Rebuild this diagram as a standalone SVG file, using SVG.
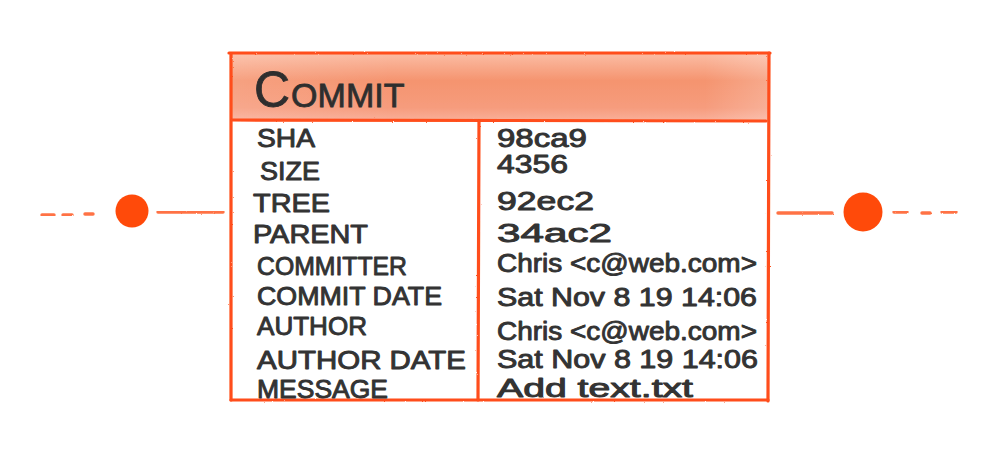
<svg xmlns="http://www.w3.org/2000/svg" width="1000" height="463" viewBox="0 0 1000 463">
  <defs>
    <style>
      .edge { stroke: #ff5a24; stroke-width: 3.4; stroke-linecap: round; fill: none; opacity: 0.85; }
      .frame { stroke: #ff4d1a; stroke-width: 3.2; fill: none; stroke-linecap: round; }
      .dot { fill: #ff4a0a; }
      .lbl, .val { font-family: "Liberation Sans", "DejaVu Sans", sans-serif; font-size: 25px; fill: #333333; stroke: #333333; stroke-width: 0.9; stroke-linejoin: round; }
      .title { font-family: "Liberation Sans", "DejaVu Sans", sans-serif; fill: #2e2e2e; stroke: #2e2e2e; stroke-width: 0.8; }
    </style>
    <linearGradient id="headFill" x1="0" y1="0" x2="0" y2="1">
      <stop offset="0" stop-color="#fbbca3"/>
      <stop offset="0.4" stop-color="#f5946f"/>
      <stop offset="0.8" stop-color="#f69c7d"/>
      <stop offset="1" stop-color="#f9b09a"/>
    </linearGradient>
    <linearGradient id="headFade" x1="0" y1="0" x2="1" y2="0">
      <stop offset="0" stop-color="#ffffff" stop-opacity="0.12"/>
      <stop offset="0.3" stop-color="#ffffff" stop-opacity="0"/>
      <stop offset="0.88" stop-color="#ffffff" stop-opacity="0"/>
      <stop offset="1" stop-color="#ffffff" stop-opacity="0.2"/>
    </linearGradient>
    <filter id="pencil" x="-5%" y="-5%" width="110%" height="110%">
      <feTurbulence type="fractalNoise" baseFrequency="0.9" numOctaves="2" seed="3" result="n"/>
      <feDisplacementMap in="SourceGraphic" in2="n" scale="1.8"/>
    </filter>
    <filter id="soft">
      <feGaussianBlur stdDeviation="0.6"/>
    </filter>
  </defs>

  <!-- links to the neighbouring commits -->
  <g id="connectors" filter="url(#pencil)">
    <line class="edge" x1="158" y1="212" x2="223" y2="212"/>
    <line class="edge" x1="42" y1="215" x2="54" y2="215"/>
    <line class="edge" x1="63" y1="215" x2="72" y2="215"/>
    <line class="edge" x1="85" y1="214" x2="93" y2="214"/>
    <line class="edge" x1="778" y1="213" x2="832" y2="213"/>
    <line class="edge" x1="894" y1="212" x2="907" y2="212"/>
    <line class="edge" x1="922" y1="213" x2="930" y2="213"/>
    <line class="edge" x1="942" y1="212" x2="956" y2="212"/>
  </g>

  <g id="prev-commit">
    <circle class="dot" cx="132" cy="211" r="16.5"/>
  </g>

  <g id="next-commit">
    <circle class="dot" cx="863" cy="212" r="19.5"/>
  </g>

  <!-- commit object table -->
  <g id="commit">
    <rect x="231" y="54" width="538" height="67" fill="url(#headFill)" filter="url(#soft)"/>
    <rect x="231" y="54" width="538" height="67" fill="url(#headFade)"/>
    <g filter="url(#pencil)">
      <path class="frame" d="M229 53 L770 53"/>
      <path class="frame" d="M231 54 L231 400"/>
      <path class="frame" d="M769 53 L768 401"/>
      <path class="frame" d="M231 400 L768 400"/>
      <path class="frame" d="M232 120 L766 121"/>
      <path class="frame" d="M479 121 L478 400"/>
    </g>

    <text class="title" x="254" y="107"><tspan font-size="50">C</tspan><tspan font-size="34" dx="1">OMMIT</tspan></text>

    <text class="lbl" x="257" y="147" textLength="58" lengthAdjust="spacingAndGlyphs">SHA</text>
    <text class="lbl" x="260" y="180" textLength="60" lengthAdjust="spacingAndGlyphs">SIZE</text>
    <text class="lbl" x="253" y="212" textLength="77" lengthAdjust="spacingAndGlyphs">TREE</text>
    <text class="lbl" x="253" y="243" textLength="115" lengthAdjust="spacingAndGlyphs">PARENT</text>
    <text class="lbl" x="257" y="275" textLength="150" lengthAdjust="spacingAndGlyphs">COMMITTER</text>
    <text class="lbl" x="257" y="305" textLength="185" lengthAdjust="spacingAndGlyphs">COMMIT DATE</text>
    <text class="lbl" x="257" y="335" textLength="110" lengthAdjust="spacingAndGlyphs">AUTHOR</text>
    <text class="lbl" x="257" y="369" textLength="209" lengthAdjust="spacingAndGlyphs">AUTHOR DATE</text>
    <text class="lbl" x="257" y="398" textLength="131" lengthAdjust="spacingAndGlyphs">MESSAGE</text>

    <text class="val" x="497" y="147" textLength="90" lengthAdjust="spacingAndGlyphs">98ca9</text>
    <text class="val" x="497" y="173" textLength="71" lengthAdjust="spacingAndGlyphs">4356</text>
    <text class="val" x="497" y="210" textLength="97" lengthAdjust="spacingAndGlyphs">92ec2</text>
    <text class="val" x="497" y="242" textLength="115" lengthAdjust="spacingAndGlyphs">34ac2</text>
    <text class="val" x="497" y="272" textLength="260" lengthAdjust="spacingAndGlyphs">Chris &lt;c@web.com&gt;</text>
    <text class="val" x="497" y="306" textLength="260" lengthAdjust="spacingAndGlyphs">Sat Nov 8 19 14:06</text>
    <text class="val" x="497" y="340" textLength="260" lengthAdjust="spacingAndGlyphs">Chris &lt;c@web.com&gt;</text>
    <text class="val" x="497" y="368" textLength="261" lengthAdjust="spacingAndGlyphs">Sat Nov 8 19 14:06</text>
    <text class="val" x="497" y="397" textLength="196" lengthAdjust="spacingAndGlyphs">Add text.txt</text>
  </g>
</svg>
